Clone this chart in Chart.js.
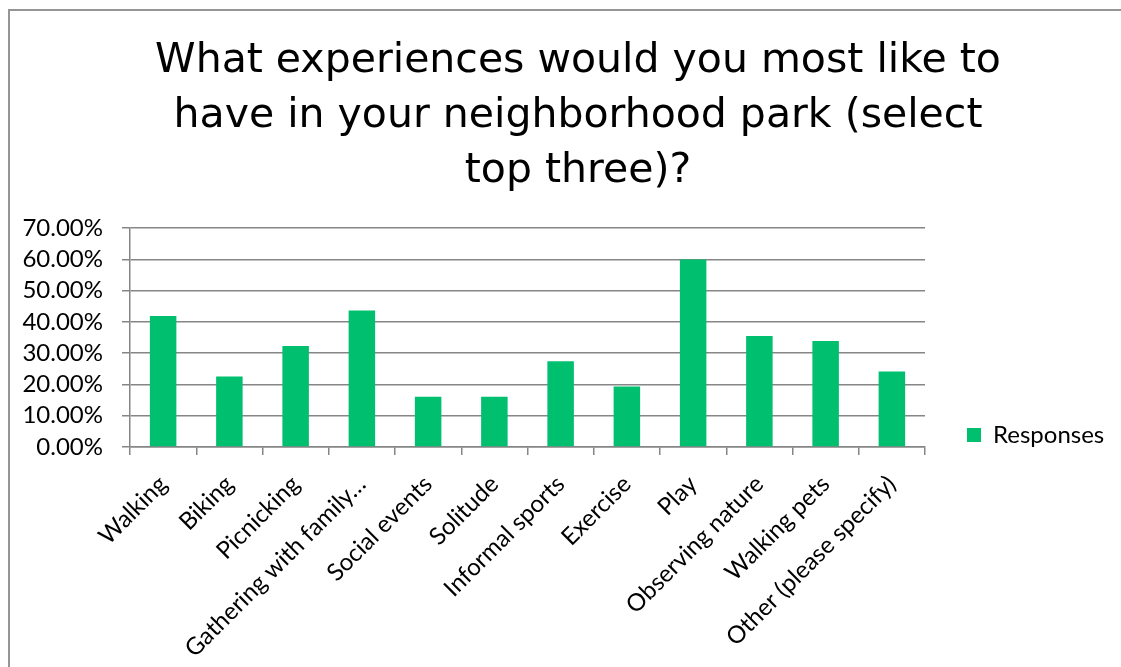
<!DOCTYPE html>
<html><head><meta charset="utf-8">
<script src="https://cdn.jsdelivr.net/npm/chart.js@4.4.1/dist/chart.umd.min.js"></script>
<style>
html,body{margin:0;padding:0;background:#fff;}
#wrap{position:relative;width:1121px;height:667px;overflow:hidden;background:#fff;}
#frame{position:absolute;left:8px;top:9px;width:1300px;height:800px;border-left:2px solid #959595;border-top:2px solid #959595;box-sizing:border-box;pointer-events:none;}
canvas{position:absolute;left:0;top:0;}
</style></head><body>
<div id="wrap"><canvas id="c" width="1136" height="667"></canvas><div id="frame"></div></div>
<script>
const titleLines = ['What experiences would you most like to', 'have in your neighborhood park (select', 'top three)?'];
const categories = ['Walking', 'Biking', 'Picnicking', 'Gathering with family…', 'Social events', 'Solitude', 'Informal sports', 'Exercise', 'Play', 'Observing nature', 'Walking pets', 'Other (please specify)'];
const seriesName = 'Responses';
const responses = [41.9, 22.5, 32.3, 43.6, 16.1, 16.1, 27.4, 19.3, 59.9, 35.5, 33.9, 24.1];
const yTickValues = [0, 10, 20, 30, 40, 50, 60, 70];

const GRID = '#868686';
const smallFont = {family: 'Lato', size: 24};

new Chart(document.getElementById('c'), {
  type: 'bar',
  data: {
    labels: categories,
    datasets: [{
      label: seriesName,
      data: responses,
      backgroundColor: '#00BF6F',
      borderWidth: 0,
      barPercentage: 0.4,
      categoryPercentage: 1.0
    }]
  },
  options: {
    responsive: false,
    animation: false,
    devicePixelRatio: 1,
    layout: {padding: {left: 20, right: 0, top: 0, bottom: 0}},
    plugins: {
      title: {
        display: true,
        text: titleLines,
        color: '#000',
        font: {family: 'DejaVu Sans', size: 41, weight: 'normal', lineHeight: 1.34},
        padding: {top: 34, bottom: 29.2}
      },
      legend: {
        display: true,
        position: 'right',
        align: 'end',
        fullSize: false,
        labels: {boxWidth: 14, boxHeight: 14, color: '#000', font: smallFont, padding: 0}
      },
      tooltip: {enabled: false}
    },
    scales: {
      x: {
        type: 'category',
        offset: true,
        grid: {display: true, drawOnChartArea: false, drawTicks: true, tickLength: 8, color: GRID, lineWidth: 1.5, offset: true},
        border: {display: true, color: GRID, width: 1.5},
        ticks: {minRotation: 45, maxRotation: 45, autoSkip: false, color: '#000', font: smallFont, padding: 15},
        afterFit: s => { s.height = 667 - 447; }
      },
      y: {
        min: 0, max: 70,
        afterBuildTicks: s => { s.ticks = yTickValues.map(v => ({value: v})); },
        grid: {display: true, drawOnChartArea: true, drawTicks: true, tickLength: 8, color: GRID, lineWidth: 1.5},
        border: {display: true, color: GRID, width: 1.5},
        ticks: {autoSkip: false, color: '#000', font: smallFont, padding: 19, callback: v => v.toFixed(2) + '%'},
        afterFit: s => { s.width = 110; }
      },
      gapInner: {
        type: 'linear', position: 'right', display: true, weight: 0,
        grid: {display: false}, border: {display: false}, ticks: {display: false},
        afterFit: s => { s.width = 42; }
      },
      gapOuter: {
        type: 'linear', position: 'right', display: true, weight: 2000,
        grid: {display: false}, border: {display: false}, ticks: {display: false},
        afterFit: s => { s.width = 29.5; }
      }
    }
  }
});
</script>
</body></html>
